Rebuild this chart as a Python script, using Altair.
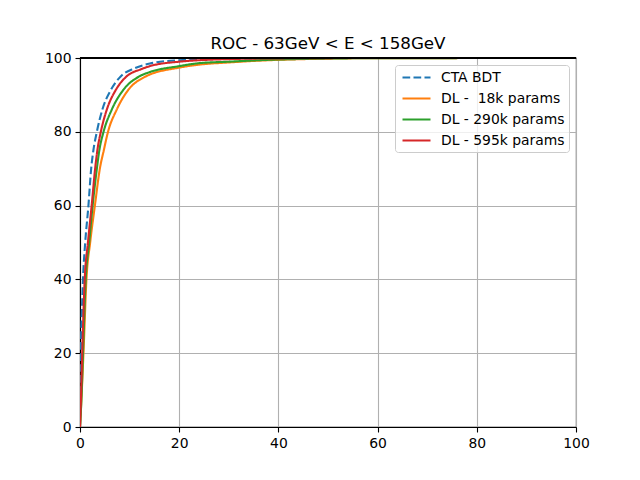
import altair as alt
import pandas as pd

series_names = ["CTA BDT", "DL - \u00a018k params", "DL - 290k params", "DL - 595k params"]
series_colors = ["#1f77b4", "#ff7f0e", "#2ca02c", "#d62728"]

bdt_x = [0, 0.15, 0.35, 0.6, 1.05, 1.7, 2.25, 2.7, 3.4, 4.5, 6.2, 8.2, 11.0, 14.1, 20, 30, 40, 60, 100]
bdt_y = [0, 20, 30, 40, 50, 60, 70, 75, 80, 86, 91.3, 95.0, 97.2, 98.5, 99.4, 99.8, 99.95, 100, 100]

dl18_x = [0, 0.3, 0.7, 1.3, 2.05, 3.0, 4.0, 4.8, 5.65, 7.4, 9.7, 13.1, 20, 24, 30, 40, 60, 100]
dl18_y = [0, 8, 20, 40, 50, 60, 70, 75, 80, 86, 91.3, 94.9, 97.4, 98.2, 98.8, 99.5, 99.95, 100]

dl290_x = [0, 0.3, 0.6, 1.15, 1.85, 2.55, 3.4, 3.9, 4.75, 6.4, 8.7, 11.8, 14.1, 20, 24, 30, 40, 60, 100]
dl290_y = [0, 8, 20, 40, 50, 60, 70, 75, 80, 86, 91.3, 94.9, 96.2, 97.8, 98.6, 99.0, 99.6, 99.95, 100]

dl595_x = [0, 0.2, 0.45, 0.95, 1.6, 2.35, 3.05, 3.5, 4.2, 5.4, 7.2, 9.3, 12.4, 14.1, 20, 24, 30, 40, 60, 100]
dl595_y = [0, 8, 20, 40, 50, 60, 70, 75, 80, 86, 91.3, 94.9, 97.0, 97.8, 99.0, 99.4, 99.7, 99.9, 100, 100]

tick_values = [0, 20, 40, 60, 80, 100]

rows = []
for name, xs, ys in zip(series_names, [bdt_x, dl18_x, dl290_x, dl595_x], [bdt_y, dl18_y, dl290_y, dl595_y]):
    for i, (xv, yv) in enumerate(zip(xs, ys)):
        rows.append({"series": name, "fpr": xv, "tpr": yv, "i": i})
df = pd.DataFrame(rows)

color_scale = alt.Scale(domain=series_names, range=series_colors)
dash_scale = alt.Scale(domain=series_names, range=[[7.7, 3.3], [1, 0], [1, 0], [1, 0]])

legend = alt.Legend(
    title=None,
    orient="none",
    legendX=315,
    legendY=7,
    padding=4,
    fillColor="rgba(255,255,255,0.8)",
    strokeColor="#cccccc",
    cornerRadius=3,
    labelFont="DejaVu Sans",
    labelFontSize=13.9,
    labelColor="black",
    symbolType="M-2,0L2,0",
    symbolStrokeWidth=2.1,
    symbolSize=196,
    symbolOffset=9,
    labelOffset=16,
    rowPadding=5,
)

base = alt.Chart(df).mark_line(strokeWidth=2.1, clip=True, interpolate="monotone").encode(
    x=alt.X("fpr:Q", scale=alt.Scale(domain=[0, 100], nice=False),
            axis=alt.Axis(title=None, values=tick_values, format="d", labelFlush=False)),
    y=alt.Y("tpr:Q", scale=alt.Scale(domain=[0, 100], nice=False),
            axis=alt.Axis(title=None, values=tick_values, format="d", labelFlush=False)),
    color=alt.Color("series:N", scale=color_scale, legend=legend, sort=series_names),
    strokeDash=alt.StrokeDash("series:N", scale=dash_scale, legend=legend, sort=series_names),
    order="i:Q",
)

layers = [base.transform_filter(alt.datum.series == name) for name in series_names]
top_rule = alt.Chart(df).mark_rule(color="black", strokeWidth=1.1).encode(y=alt.value(0))

chart = alt.layer(*layers, top_rule).properties(
    width=496,
    height=369,
    title=alt.TitleParams("ROC - 63GeV < E < 158GeV", font="DejaVu Sans", fontSize=16.7,
                          fontWeight="normal", color="black", baseline="alphabetic", offset=8, dy=23),
    autosize=alt.AutoSizeParams(type="none"),
    padding={"left": 72, "top": 50, "right": 56, "bottom": 45},
).configure_view(
    stroke="black", strokeWidth=1.1
).configure_axis(
    grid=True, gridColor="#b0b0b0", gridWidth=1.1,
    domainColor="black", domainWidth=1.1,
    tickColor="black", tickWidth=1.1, tickSize=5,
    labelFont="DejaVu Sans", labelFontSize=13.9, labelColor="black", labelPadding=4,
)

chart.save("out.html", embed_options={"renderer": "svg", "actions": False})
